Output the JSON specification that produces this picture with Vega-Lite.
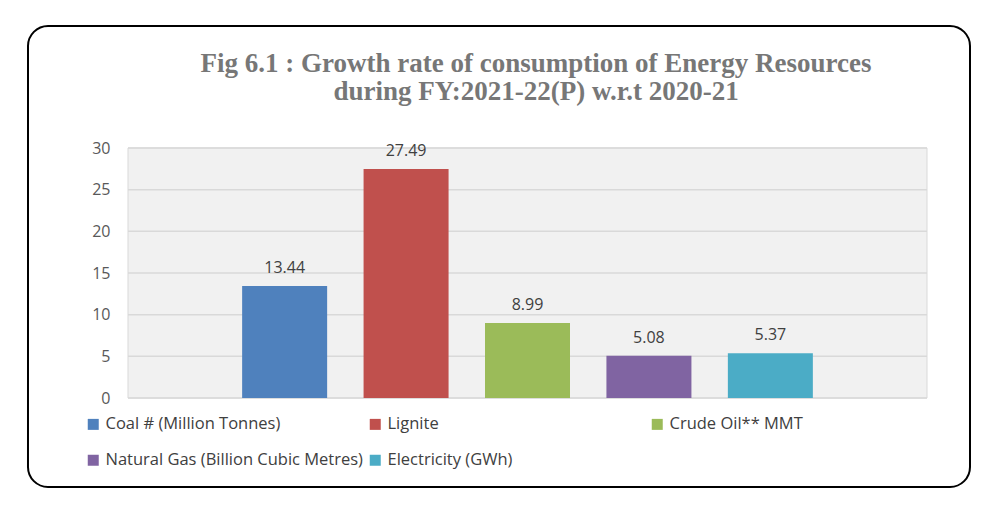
{
  "$schema": "https://vega.github.io/schema/vega-lite/v6.json",
  "width": 942,
  "height": 461,
  "autosize": {"type": "none"},
  "padding": {"left": 28, "top": 26, "right": 30, "bottom": 26},
  "background": "white",
  "config": {
    "view": {"stroke": "black", "strokeWidth": 2, "cornerRadius": 20, "fill": "white"}
  },
  "title": {
    "text": ["Fig 6.1 : Growth rate of consumption of Energy Resources", "during FY:2021-22(P) w.r.t 2020-21"],
    "font": "Liberation Serif",
    "fontSize": 27,
    "fontWeight": "bold",
    "color": "#777777",
    "anchor": "middle",
    "frame": "group",
    "baseline": "top",
    "dx": 37,
    "offset": -80,
    "lineHeight": 28
  },
  "layer": [
    {
      "data": {"values": [{"area": "plot"}]},
      "mark": {"type": "rect", "fill": "#f1f1f1", "stroke": "#d9d9d9", "strokeWidth": 1},
      "encoding": {
        "x": {"datum": 0, "type": "quantitative", "scale": {"domain": [0, 1], "range": [100, 899]}, "axis": null},
        "x2": {"datum": 1},
        "y": {"datum": 0, "type": "quantitative", "scale": {"domain": [0, 30], "range": [372, 122], "nice": false}},
        "y2": {"datum": 30}
      }
    },
    {
      "data": {"values": [{"g": 0}, {"g": 5}, {"g": 10}, {"g": 15}, {"g": 20}, {"g": 25}, {"g": 30}]},
      "mark": {"type": "rule", "color": "#d9d9d9", "strokeWidth": 1.5},
      "encoding": {
        "x": {"datum": 0, "type": "quantitative", "scale": {"domain": [0, 1], "range": [100, 899]}, "axis": null},
        "x2": {"datum": 1},
        "y": {"field": "g", "type": "quantitative", "scale": {"domain": [0, 30], "range": [372, 122], "nice": false},
          "axis": {"orient": "left", "offset": 0, "grid": false, "ticks": false, "domain": false, "labelPadding": -82,
            "values": [0, 5, 10, 15, 20, 25, 30], "labelFont": "Open Sans", "labelFontSize": 16, "labelColor": "#595959", "title": null}}
      }
    },
    {
      "data": {"values": [
        {"Series": "Coal # (Million Tonnes)", "value": 13.44},
        {"Series": "Lignite", "value": 27.49},
        {"Series": "Crude Oil** MMT", "value": 8.99},
        {"Series": "Natural Gas (Billion Cubic Metres)", "value": 5.08},
        {"Series": "Electricity (GWh)", "value": 5.37}
      ]},
      "encoding": {
        "x": {"field": "Series", "type": "nominal", "sort": null,
          "scale": {"domain": ["Coal # (Million Tonnes)", "Lignite", "Crude Oil** MMT", "Natural Gas (Billion Cubic Metres)", "Electricity (GWh)"],
            "range": [100, 899], "paddingInner": 0.3, "paddingOuter": 0.94}, "axis": null},
        "y": {"field": "value", "type": "quantitative", "scale": {"domain": [0, 30], "range": [372, 122], "nice": false}}
      },
      "layer": [
        {
          "mark": {"type": "bar"},
          "encoding": {
            "color": {"field": "Series", "type": "nominal",
              "scale": {"domain": ["Coal # (Million Tonnes)", "Lignite", "Crude Oil** MMT", "Natural Gas (Billion Cubic Metres)", "Electricity (GWh)"],
                "range": ["#4f81bd", "#c0504d", "#9bbb59", "#8064a2", "#4bacc6"]},
              "legend": {"orient": "none", "legendX": 57, "legendY": 390, "direction": "horizontal", "columns": 3, "gridAlign": "all",
                "columnPadding": 4, "rowPadding": 19, "symbolType": "square", "symbolSize": 121, "symbolStrokeWidth": 0,
                "labelFont": "Open Sans", "labelFontSize": 16.5, "labelColor": "#404040", "labelOffset": 4, "labelLimit": 400,
                "title": null, "padding": 0}}
          }
        },
        {
          "mark": {"type": "text", "baseline": "alphabetic", "dy": -13, "font": "Open Sans", "fontSize": 16, "color": "#404040"},
          "encoding": {
            "text": {"field": "value", "type": "quantitative", "format": ".2f"}
          }
        }
      ]
    }
  ],
  "resolve": {"scale": {"x": "independent"}}
}
